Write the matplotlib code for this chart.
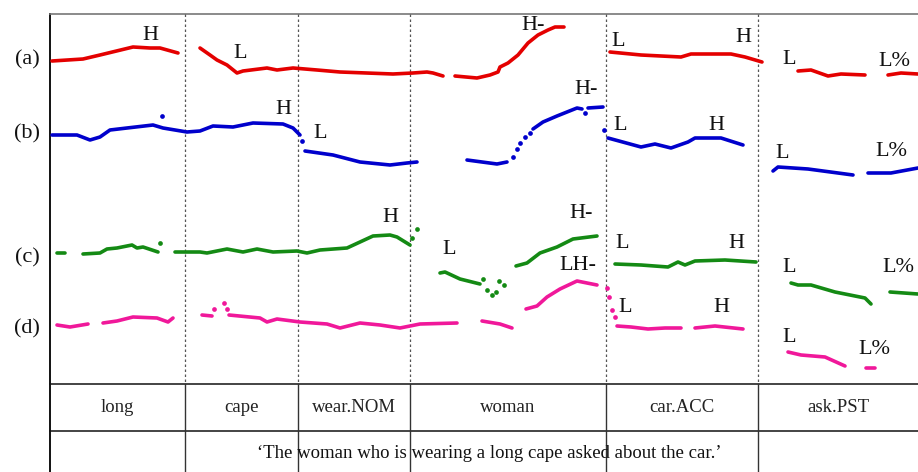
import matplotlib
matplotlib.use("Agg")
import matplotlib.pyplot as plt

plt.rcParams['font.family'] = ['Liberation Serif', 'DejaVu Serif']

# word boundaries (time, in plot units) and glosses
boundaries = [185, 298, 410, 606, 758]
words = ['long', 'cape', 'wear.NOM', 'woman', 'car.ACC', 'ask.PST']
word_edges = [50, 185, 298, 410, 606, 758, 918]
translation = '\u2018The woman who is wearing a long cape asked about the car.\u2019'

# pitch tracks: list of (time, f0) segments per utterance, plus stray points
track_a = [
    ([52, 83, 100, 133, 150, 160, 178], [61, 59, 55, 47, 48, 48, 53]),
    ([200, 210, 217, 227, 237, 243, 267, 277, 293, 317, 340, 393, 413, 427, 433, 443],
     [48, 55, 60, 65, 73, 71, 68, 70, 68, 70, 72, 74, 73, 72, 73, 76]),
    ([455, 477, 490, 498, 500, 508, 518, 528, 538, 548, 555, 564],
     [76, 78, 75, 72, 67, 63, 55, 43, 35, 30, 27, 27]),
    ([610, 641, 681, 691, 731, 745, 762], [52, 55, 57, 54, 54, 57, 62]),
    ([798, 811, 828, 841, 865], [71, 70, 76, 74, 75]),
    ([888, 901, 918], [75, 73, 74]),
]
dots_a = ([], [])

track_b = [
    ([52, 77, 90, 100, 110, 127, 153, 163, 187, 200, 213, 233, 253, 283, 293, 300],
     [135, 135, 140, 137, 130, 128, 125, 128, 132, 131, 126, 127, 123, 124, 128, 135]),
    ([305, 333, 360, 390, 407, 417], [151, 155, 162, 165, 163, 162]),
    ([467, 497, 507], [160, 164, 162]),
    ([533, 543, 557, 567, 577, 582], [129, 122, 116, 112, 108, 109]),
    ([588, 603], [108, 107]),
    ([608, 641, 655, 671, 688, 695, 721, 743], [138, 147, 144, 148, 142, 138, 138, 145]),
    ([773, 778, 808, 853], [171, 167, 169, 175]),
    ([868, 891, 918], [173, 173, 168]),
]
dots_b = ([162, 302, 513, 517, 520, 525, 530, 585, 604],
          [116, 141, 157, 149, 143, 137, 133, 113, 130])

track_c = [
    ([57, 65], [253, 253]),
    ([83, 100, 107, 117, 132, 137, 143, 158], [254, 253, 249, 248, 245, 248, 247, 252]),
    ([175, 200, 207, 227, 243, 257, 273, 297, 307, 320, 347, 360, 373, 390, 397, 410],
     [252, 252, 253, 249, 252, 249, 252, 251, 253, 250, 248, 242, 236, 235, 237, 245]),
    ([440, 445, 460, 480], [273, 272, 279, 284]),
    ([516, 527, 540, 557, 573, 597], [266, 263, 253, 247, 239, 236]),
    ([615, 641, 668, 678, 685, 695, 725, 756], [264, 265, 267, 262, 265, 261, 260, 262]),
    ([791, 798, 811, 835, 865, 871], [283, 285, 285, 292, 298, 304]),
    ([890, 918], [292, 294]),
]
dots_c = ([160, 412, 417, 483, 487, 492, 496, 499, 504],
          [243, 238, 229, 279, 290, 295, 292, 281, 285])

track_d = [
    ([57, 70, 88], [325, 327, 324]),
    ([103, 117, 133, 157, 168, 173], [323, 321, 317, 318, 322, 318]),
    ([202, 212], [315, 316]),
    ([229, 260, 267, 277, 300, 327, 340, 360, 380, 400, 420, 457],
     [315, 318, 322, 319, 322, 324, 328, 323, 325, 328, 324, 323]),
    ([482, 500, 512], [321, 324, 328]),
    ([526, 537, 547, 560, 577, 587, 597], [309, 306, 297, 289, 281, 283, 285]),
    ([617, 631, 648, 665, 681], [326, 327, 329, 328, 328]),
    ([695, 715, 743], [328, 326, 329]),
    ([788, 801, 825, 845], [352, 355, 357, 366]),
    ([866, 875], [368, 368]),
]
dots_d = ([214, 224, 227, 607, 609, 612, 615],
          [309, 303, 309, 288, 297, 310, 317])

tones_a = [('H', 150, 35), ('L', 240, 54), ('H-', 533, 25), ('L', 618, 42),
           ('H', 743, 38), ('L', 789, 60), ('L%', 894, 62)]
tones_b = [('H', 283, 109), ('L', 320, 134), ('H-', 586, 89), ('L', 620, 126),
           ('H', 716, 126), ('L', 782, 153), ('L%', 891, 152)]
tones_c = [('H', 390, 217), ('L', 449, 250), ('H-', 581, 213), ('L', 622, 244),
           ('H', 736, 243), ('L', 789, 268), ('L%', 898, 268)]
tones_d = [('LH-', 578, 265), ('L', 625, 307), ('H', 721, 307), ('L', 789, 337),
           ('L%', 874, 349)]

row_labels = ['(a)', '(b)', '(c)', '(d)']
row_label_y = [60, 134, 258, 329]

colors = ['#e40000', '#0000cc', '#148a14', '#f0189a']

fig = plt.figure(figsize=(9.18, 4.72), dpi=100)
ax = fig.add_axes([0, 0, 1, 1])
ax.set_xlim(0, 918)
ax.set_ylim(472, 0)
ax.axis('off')

# frame and table
ax.plot([50, 50], [14, 472], color='#111111', lw=1.4)
ax.plot([50, 918], [14, 14], color='#777777', lw=1.2)
ax.plot([50, 918], [384, 384], color='#111111', lw=1.1)
ax.plot([50, 918], [431, 431], color='#111111', lw=1.1)
for b in boundaries:
    ax.plot([b, b], [14, 384], color='#555555', lw=0.9, ls=(0, (2, 2)))
    ax.plot([b, b], [384, 472], color='#333333', lw=1.0)

for i, w in enumerate(words):
    ax.text((word_edges[i] + word_edges[i + 1]) / 2, 408, w, ha='center', va='center',
            fontsize=13.5, color='#222222')
ax.text(489, 453, translation, ha='center', va='center', fontsize=13.5, color='#111111')

tracks = [track_a, track_b, track_c, track_d]
dots = [dots_a, dots_b, dots_c, dots_d]
tones = [tones_a, tones_b, tones_c, tones_d]
for tr, dt, tn, col in zip(tracks, dots, tones, colors):
    for xs, ys in tr:
        ax.plot(xs, ys, color=col, lw=2.6, solid_capstyle='round', solid_joinstyle='round')
    ax.plot(dt[0], dt[1], 'o', color=col, ms=3.4, mew=0)
    for t, x, y in tn:
        ax.text(x, y, t, ha='center', va='center', fontsize=16, color='#111111')

for lab, y in zip(row_labels, row_label_y):
    ax.text(27, y, lab, ha='center', va='center', fontsize=16, color='#111111')

fig.savefig('out.png', dpi=100)
